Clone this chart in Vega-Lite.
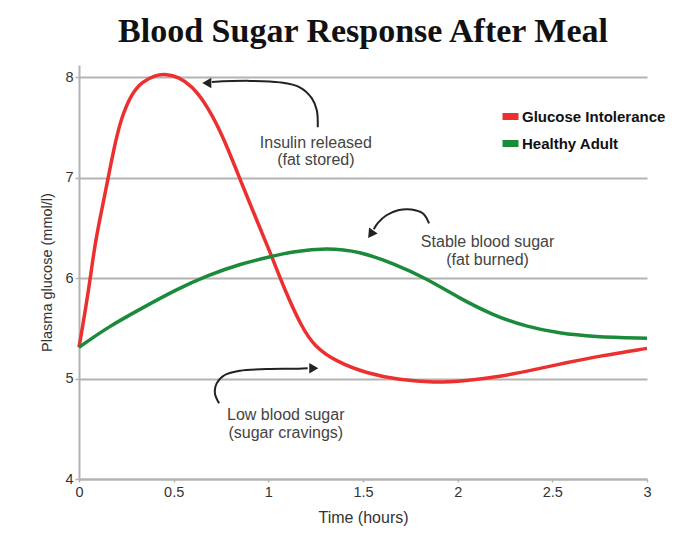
{
  "$schema": "https://vega.github.io/schema/vega-lite/v6.json",
  "width": 568,
  "height": 414,
  "autosize": {"type": "none"},
  "padding": {"left": 79, "top": 65, "right": 53, "bottom": 62},
  "background": "white",
  "title": {
    "text": "Blood Sugar Response After Meal",
    "font": "Liberation Serif",
    "fontSize": 34,
    "fontWeight": "bold",
    "color": "#111111",
    "anchor": "middle",
    "offset": 16
  },
  "config": {
    "view": {"stroke": null}
  },
  "datasets": {
    "curves": [
      {"series": "Glucose Intolerance", "t": 0, "v": 5.31},
      {"series": "Glucose Intolerance", "t": 0.049, "v": 5.847},
      {"series": "Glucose Intolerance", "t": 0.084, "v": 6.344},
      {"series": "Glucose Intolerance", "t": 0.12, "v": 6.675},
      {"series": "Glucose Intolerance", "t": 0.155, "v": 7.006},
      {"series": "Glucose Intolerance", "t": 0.19, "v": 7.338},
      {"series": "Glucose Intolerance", "t": 0.225, "v": 7.602},
      {"series": "Glucose Intolerance", "t": 0.278, "v": 7.835},
      {"series": "Glucose Intolerance", "t": 0.331, "v": 7.95},
      {"series": "Glucose Intolerance", "t": 0.401, "v": 8.02},
      {"series": "Glucose Intolerance", "t": 0.463, "v": 8.03},
      {"series": "Glucose Intolerance", "t": 0.524, "v": 8.0},
      {"series": "Glucose Intolerance", "t": 0.595, "v": 7.917},
      {"series": "Glucose Intolerance", "t": 0.682, "v": 7.702},
      {"series": "Glucose Intolerance", "t": 0.77, "v": 7.371},
      {"series": "Glucose Intolerance", "t": 0.859, "v": 6.94},
      {"series": "Glucose Intolerance", "t": 0.946, "v": 6.543},
      {"series": "Glucose Intolerance", "t": 1.017, "v": 6.22},
      {"series": "Glucose Intolerance", "t": 1.087, "v": 5.88},
      {"series": "Glucose Intolerance", "t": 1.175, "v": 5.515},
      {"series": "Glucose Intolerance", "t": 1.245, "v": 5.316},
      {"series": "Glucose Intolerance", "t": 1.36, "v": 5.167},
      {"series": "Glucose Intolerance", "t": 1.518, "v": 5.052},
      {"series": "Glucose Intolerance", "t": 1.694, "v": 4.985},
      {"series": "Glucose Intolerance", "t": 1.87, "v": 4.958},
      {"series": "Glucose Intolerance", "t": 2.046, "v": 4.978},
      {"series": "Glucose Intolerance", "t": 2.222, "v": 5.018},
      {"series": "Glucose Intolerance", "t": 2.397, "v": 5.085},
      {"series": "Glucose Intolerance", "t": 2.573, "v": 5.157},
      {"series": "Glucose Intolerance", "t": 2.749, "v": 5.224},
      {"series": "Glucose Intolerance", "t": 3, "v": 5.3},
      {"series": "Healthy Adult", "t": 0, "v": 5.31},
      {"series": "Healthy Adult", "t": 0.155, "v": 5.515},
      {"series": "Healthy Adult", "t": 0.331, "v": 5.698},
      {"series": "Healthy Adult", "t": 0.507, "v": 5.88},
      {"series": "Healthy Adult", "t": 0.682, "v": 6.029},
      {"series": "Healthy Adult", "t": 0.859, "v": 6.145},
      {"series": "Healthy Adult", "t": 1.017, "v": 6.215},
      {"series": "Healthy Adult", "t": 1.131, "v": 6.265},
      {"series": "Healthy Adult", "t": 1.307, "v": 6.3},
      {"series": "Healthy Adult", "t": 1.483, "v": 6.265},
      {"series": "Healthy Adult", "t": 1.659, "v": 6.145},
      {"series": "Healthy Adult", "t": 1.835, "v": 5.996},
      {"series": "Healthy Adult", "t": 2.011, "v": 5.797},
      {"series": "Healthy Adult", "t": 2.186, "v": 5.631},
      {"series": "Healthy Adult", "t": 2.363, "v": 5.515},
      {"series": "Healthy Adult", "t": 2.538, "v": 5.449},
      {"series": "Healthy Adult", "t": 2.714, "v": 5.416},
      {"series": "Healthy Adult", "t": 3, "v": 5.4}
    ],
    "arrows": [
      {"arrow": "insulin", "i": 1, "t": 0.702, "v": 7.952},
      {"arrow": "insulin", "i": 2, "t": 0.902, "v": 7.962},
      {"arrow": "insulin", "i": 3, "t": 1.061, "v": 7.947},
      {"arrow": "insulin", "i": 4, "t": 1.166, "v": 7.898},
      {"arrow": "insulin", "i": 5, "t": 1.23, "v": 7.788},
      {"arrow": "insulin", "i": 6, "t": 1.256, "v": 7.669},
      {"arrow": "insulin", "i": 7, "t": 1.261, "v": 7.5},
      {"arrow": "stable", "i": 1, "t": 1.849, "v": 6.543},
      {"arrow": "stable", "i": 2, "t": 1.817, "v": 6.642},
      {"arrow": "stable", "i": 3, "t": 1.756, "v": 6.682},
      {"arrow": "stable", "i": 4, "t": 1.685, "v": 6.675},
      {"arrow": "stable", "i": 5, "t": 1.624, "v": 6.625},
      {"arrow": "stable", "i": 6, "t": 1.579, "v": 6.549},
      {"arrow": "stable", "i": 7, "t": 1.557, "v": 6.486},
      {"arrow": "low", "i": 1, "t": 0.74, "v": 4.753},
      {"arrow": "low", "i": 2, "t": 0.718, "v": 4.853},
      {"arrow": "low", "i": 3, "t": 0.727, "v": 4.952},
      {"arrow": "low", "i": 4, "t": 0.77, "v": 5.035},
      {"arrow": "low", "i": 5, "t": 0.85, "v": 5.078},
      {"arrow": "low", "i": 6, "t": 0.991, "v": 5.094},
      {"arrow": "low", "i": 7, "t": 1.131, "v": 5.097},
      {"arrow": "low", "i": 8, "t": 1.208, "v": 5.101}
    ],
    "notes": [
      {"label": "Insulin released", "t": 1.251, "v": 7.341},
      {"label": "(fat stored)", "t": 1.251, "v": 7.172},
      {"label": "Stable blood sugar", "t": 2.158, "v": 6.357},
      {"label": "(fat burned)", "t": 2.158, "v": 6.178},
      {"label": "Low blood sugar", "t": 1.092, "v": 4.637},
      {"label": "(sugar cravings)", "t": 1.092, "v": 4.458}
    ]
  },
  "encoding": {
    "x": {
      "field": "t",
      "type": "quantitative",
      "scale": {"domain": [0, 3], "nice": false, "zero": false},
      "axis": {
        "values": [0, 0.5, 1, 1.5, 2, 2.5, 3],
        "format": "~g",
        "grid": false,
        "title": "Time (hours)",
        "domainColor": "#b3b3b3",
        "domainWidth": 2,
        "tickColor": "#b3b3b3",
        "tickSize": 3,
        "tickWidth": 1.5,
        "labelFont": "Liberation Sans",
        "labelFontSize": 14.5,
        "labelColor": "#333333",
        "labelPadding": 3,
        "labelFlush": false,
        "titleFont": "Liberation Sans",
        "titleFontSize": 16,
        "titleFontWeight": "normal",
        "titleColor": "#333333",
        "titlePadding": 11
      }
    },
    "y": {
      "field": "v",
      "type": "quantitative",
      "scale": {"domain": [4, 8.12], "nice": false, "zero": false},
      "axis": {
        "values": [4, 5, 6, 7, 8],
        "grid": true,
        "gridColor": "#b3b3b3",
        "gridWidth": 2,
        "title": "Plasma glucose (mmol/l)",
        "domainColor": "#b3b3b3",
        "domainWidth": 2,
        "tickColor": "#b3b3b3",
        "tickSize": 4,
        "tickWidth": 1.5,
        "labelFont": "Liberation Sans",
        "labelFontSize": 14.5,
        "labelColor": "#333333",
        "labelPadding": 2,
        "titleFont": "Liberation Sans",
        "titleFontSize": 14.5,
        "titleFontWeight": "normal",
        "titleColor": "#333333",
        "titlePadding": 10
      }
    }
  },
  "layer": [
    {
      "data": {"values": [{"v": 5.31}]},
      "mark": {"type": "rule", "color": "#c4c4c4", "strokeWidth": 2, "strokeDash": [10, 4]},
      "encoding": {
        "x": {"datum": 0, "type": "quantitative"},
        "x2": {"datum": 3},
        "y": {"field": "v", "type": "quantitative"}
      }
    },
    {
      "data": {"name": "curves"},
      "mark": {"type": "line", "interpolate": "basis", "strokeWidth": 3.5},
      "encoding": {
        "color": {
          "field": "series",
          "type": "nominal",
          "scale": {"domain": ["Glucose Intolerance", "Healthy Adult"], "range": ["#ec2f2f", "#1b8b3b"]},
          "legend": {
            "title": null,
            "orient": "none",
            "legendX": 420,
            "legendY": 40,
            "padding": 0,
            "symbolType": "stroke",
            "symbolSize": 256,
            "symbolStrokeWidth": 7,
            "labelFont": "Liberation Sans",
            "labelFontSize": 15,
            "labelFontWeight": "bold",
            "labelColor": "#111111",
            "labelOffset": 0,
            "rowPadding": -2
          }
        }
      }
    },
    {
      "data": {"name": "arrows"},
      "mark": {"type": "line", "interpolate": "catmull-rom", "color": "#222222", "strokeWidth": 2},
      "encoding": {
        "detail": {"field": "arrow", "type": "nominal"},
        "order": {"field": "i", "type": "quantitative"}
      }
    },
    {
      "data": {"values": [{"t": 0.675, "v": 7.942}]},
      "mark": {"type": "point", "shape": "triangle-left", "filled": true, "color": "#222222", "size": 110, "opacity": 1}
    },
    {
      "data": {"values": [{"t": 1.24, "v": 5.101}]},
      "mark": {"type": "point", "shape": "triangle-right", "filled": true, "color": "#222222", "size": 110, "opacity": 1}
    },
    {
      "data": {"values": [{"t": 1.541, "v": 6.436}]},
      "mark": {"type": "point", "shape": "triangle-up", "angle": 215, "filled": true, "color": "#222222", "size": 110, "opacity": 1}
    },
    {
      "data": {"name": "notes"},
      "mark": {"type": "text", "font": "Liberation Sans", "fontSize": 16, "color": "#444444", "align": "center", "baseline": "middle"},
      "encoding": {"text": {"field": "label", "type": "nominal"}}
    }
  ]
}
